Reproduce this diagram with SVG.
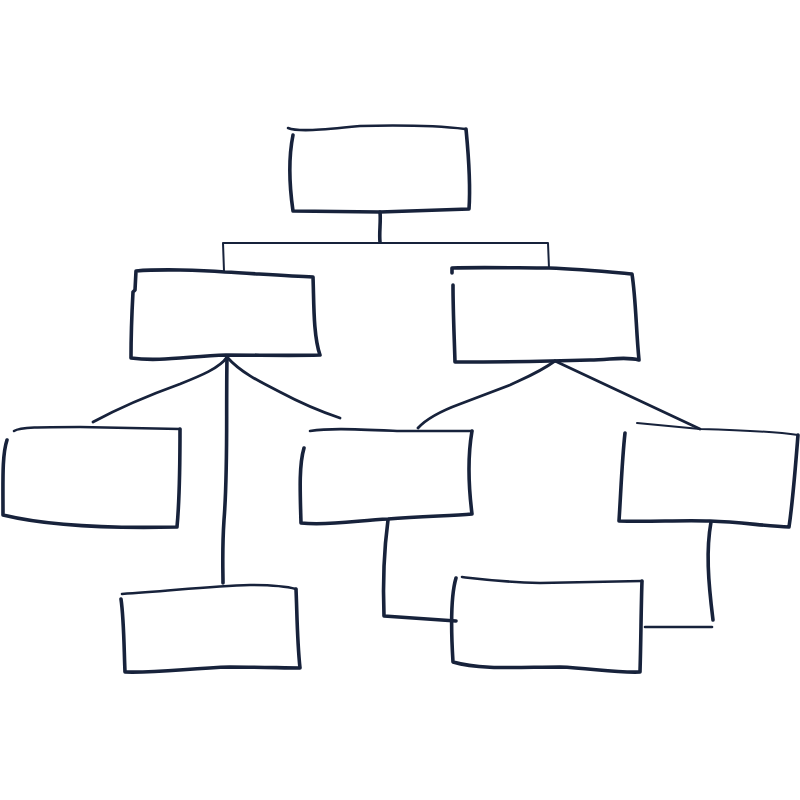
<svg xmlns="http://www.w3.org/2000/svg" width="800" height="800" viewBox="0 0 800 800">
<style>
.b{fill:none;stroke:#17223b;stroke-width:3.6;stroke-linecap:round;stroke-linejoin:round}
.b2{fill:none;stroke:#17223b;stroke-width:2.6;stroke-linecap:round;stroke-linejoin:round}
.c{fill:none;stroke:#17223b;stroke-width:2.8;stroke-linecap:round;stroke-linejoin:round}
.t{fill:none;stroke:#17223b;stroke-width:2;stroke-linecap:round;stroke-linejoin:round}
</style>
<rect width="800" height="800" fill="#ffffff"/>
<g id="connectors">
  <path class="b" d="M380,212 C381,222 379,232 380,242"/>
  <path class="t" d="M224,271 L223,243 L548,243 L549,268"/>
  <path class="c" d="M227,357 C220,368 200,376 180,384 Q130,402 93,422"/>
  <path class="b" d="M227,357 C226,420 228,470 224,520 C222,550 223,570 223,583"/>
  <path class="c" d="M227,357 C240,372 260,382 280,392 Q310,408 340,418"/>
  <path class="c" d="M555,361 C540,372 525,378 510,385 L460,404 Q430,415 418,428"/>
  <path class="c" d="M555,361 L700,429"/>
  <path class="b" d="M388,520 C384,550 383,590 384,616 L456,621"/>
  <path class="b2" d="M645,627 L712,627"/>
  <path class="b" d="M711,522 C706,550 708,580 713,620"/>
</g>
<g id="box-top">
  <path class="b2" d="M288,128 C298,132 320,130 360,126 C400,125 440,126 465,129"/>
  <path class="b" d="M293,135 C288,160 290,190 293,211 L380,212 L469,209 C471,180 468,150 466,129"/>
</g>
<g id="box-l1">
  <path class="b" d="M136,271 C160,269 200,270 225,272 C260,274 290,276 313,277 C314,300 313,335 320,355 C290,356 260,355 226,355 C190,356 160,362 131,358 C131,330 132,310 133,292 L135,290 L136,271"/>
</g>
<g id="box-r1">
  <path class="b" d="M452,273 L452,268 C480,267 520,268 549,268 C580,269 610,272 632,274 C636,300 636,330 639,360 C625,356 610,360 590,360 C560,361 520,362 455,362 C454,330 453,310 453,285"/>
</g>
<g id="box-ll">
  <path class="b2" d="M14,431 C20,427 40,427 80,427 L180,429"/>
  <path class="b" d="M7,440 C2,455 3,480 3,515 C40,524 90,529 177,527 C180,495 180,460 180,429"/>
</g>
<g id="box-lm">
  <path class="b2" d="M310,431 C330,428 350,429 400,431 L472,431"/>
  <path class="b" d="M304,448 C299,465 300,490 301,523 C330,526 360,520 388,519 C420,516 450,516 472,514 C469,490 467,460 472,431"/>
</g>
<g id="box-rr">
  <path class="t" d="M637,423 L700,429 C740,430 770,431 798,435"/>
  <path class="b" d="M625,433 C622,460 621,490 619,521 C650,522 680,520 710,521 C740,522 765,526 789,527 C793,500 796,460 798,435"/>
</g>
<g id="box-bl">
  <path class="b2" d="M122,594 C170,591 210,586 250,585 C270,585 285,586 296,589"/>
  <path class="b" d="M121,599 C124,620 124,650 125,672 C160,673 190,668 230,667 C260,667 285,668 300,668 C297,640 297,610 296,589"/>
</g>
<g id="box-bm">
  <path class="b2" d="M462,577 C480,579 500,582 540,583 L642,581"/>
  <path class="b" d="M456,578 C451,595 451,630 453,662 C480,670 520,667 560,667 C590,668 615,673 640,672 C641,640 641,610 642,581"/>
</g>
</svg>
